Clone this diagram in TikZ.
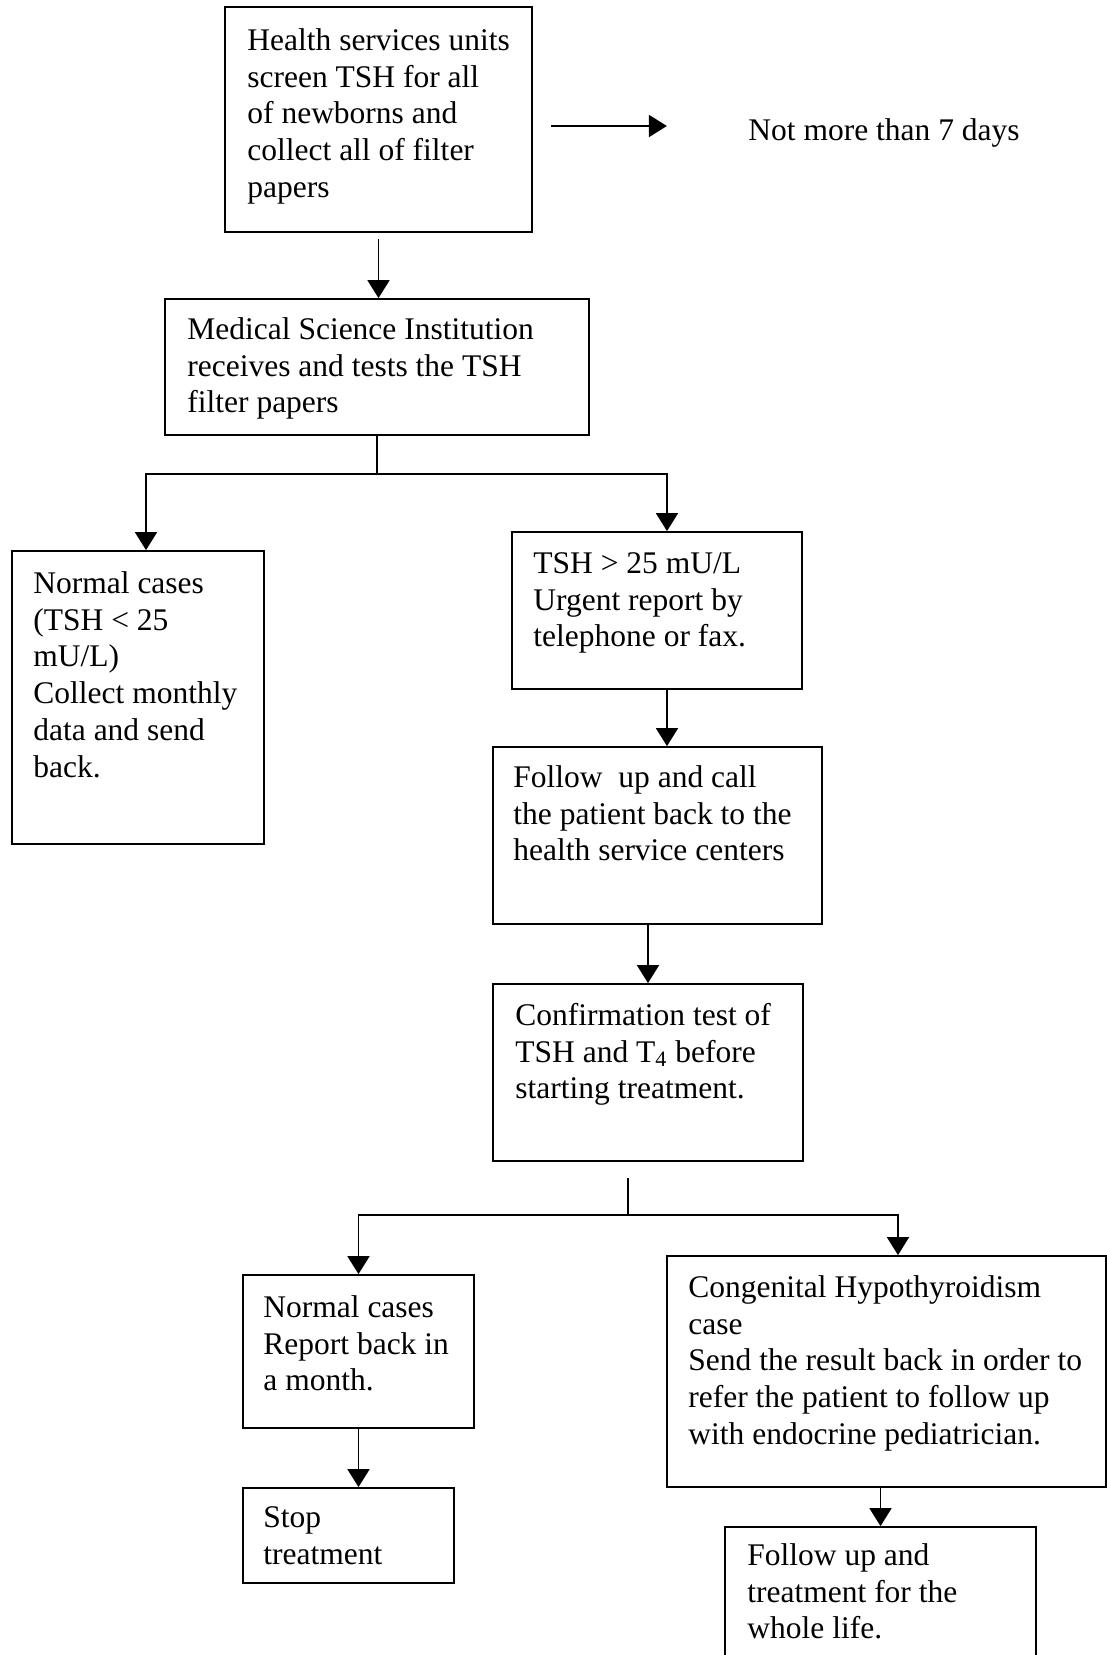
\documentclass[tikz,border=0pt]{standalone}
\usepackage{fontspec}
\setmainfont{Liberation Serif}
\usetikzlibrary{arrows.meta,calc,fit}
\begin{document}
\begin{tikzpicture}[x=0.5pt,y=-0.5pt,
  box/.style={draw, line width=0.9pt, inner sep=0pt},
  txt/.style={anchor=north west, inner sep=0pt, align=left, font=\fontsize{15.75}{18.4}\selectfont},
  arr/.style={line width=0.9pt, -{Triangle[length=9pt,width=11pt]}},
  ln/.style={line width=0.9pt}]
\path[use as bounding box] (0,0) rectangle (1107,1655);
\clip (0,0) rectangle (1107,1655);
% boxes
\node[box, fit={(225,7) (532,232)}] (b1) {};
\node[box, fit={(165,299) (589,435)}] (b2) {};
\node[box, fit={(12,551) (264,844)}] (b3) {};
\node[box, fit={(512,532) (802,689)}] (b4) {};
\node[box, fit={(493,747) (822,924)}] (b5) {};
\node[box, fit={(493,984) (803,1161)}] (b6) {};
\node[box, fit={(243,1275) (474,1428)}] (b7) {};
\node[box, fit={(667,1256) (1106,1487)}] (b8) {};
\node[box, fit={(243,1488) (454,1583)}] (b9) {};
\node[box, fit={(725,1527) (1036,1680)}] (b10) {};
% texts
\node[txt] (t1) at (247,24.2) {\strut Health services units\\screen TSH for all\\of newborns and\\collect all of filter\\papers};
\node[txt] (t2) at (187,313.2) {\strut Medical Science Institution\\receives and tests the TSH\\filter papers};
\node[txt] (t3) at (33,567.2) {\strut Normal cases\\(TSH < 25\\mU/L)\\Collect monthly\\data and send\\back.};
\node[txt] (t4) at (533,547.2) {\strut TSH > 25 mU/L\\Urgent report by\\telephone or fax.};
\node[txt] (t5) at (513,761.2) {\strut Follow\ \ up and call\\the patient back to the\\health service centers};
\node[txt] (t6) at (515,999.2) {\strut Confirmation test of\\TSH and T\textsubscript{4} before\\starting treatment.};
\node[txt] (t7) at (263,1291.2) {\strut Normal cases\\Report back in\\a month.};
\node[txt] (t8) at (688,1271.2) {\strut Congenital Hypothyroidism\\case\\Send the result back in order to\\refer the patient to follow up\\with endocrine pediatrician.};
\node[txt] (t9) at (263,1501.2) {\strut Stop\\treatment};
\node[txt] (t10) at (747,1539.2) {\strut Follow up and\\treatment for the\\whole life.};
\node[anchor=base west, inner sep=0pt, font=\fontsize{15.75}{18.4}\selectfont] (days) at (748,140) {Not more than 7 days};
% connectors
\coordinate (s1) at ($(b1.east)+(18,6.5)$);
\coordinate (s2) at ($(b1.east)+(134,6.5)$);
\draw[arr] (s1) -- (s2);
\draw[arr] ([yshift=-3pt]b1.south) -- (b1.south |- b2.north);
\coordinate (j1) at ($(b2.south)+(0,38)$);
\draw[ln] (b2.south) -- (j1);
\draw[arr] (j1) -| ([xshift=4pt]b3.north);
\draw[arr] (j1) -| ([xshift=5pt]b4.north);
\draw[arr] ([xshift=5pt]b4.south) -- ([xshift=5pt]b4.south |- b5.north);
\draw[arr] (b5.south -| b6.north) -- (b6.north);
\coordinate (j2s) at ($(b6.south)+(-20,16)$);
\coordinate (j2) at ($(b6.south)+(-20,53)$);
\draw[ln] (j2s) -- (j2);
\draw[arr] (j2) -| (b7.north);
\draw[arr] (j2) -| ([xshift=5.75pt]b8.north);
\draw[arr] (b7.south) -- (b7.south |- b9.north);
\draw[arr] (b8.south -| b10.north) -- (b10.north);
\end{tikzpicture}
\end{document}
